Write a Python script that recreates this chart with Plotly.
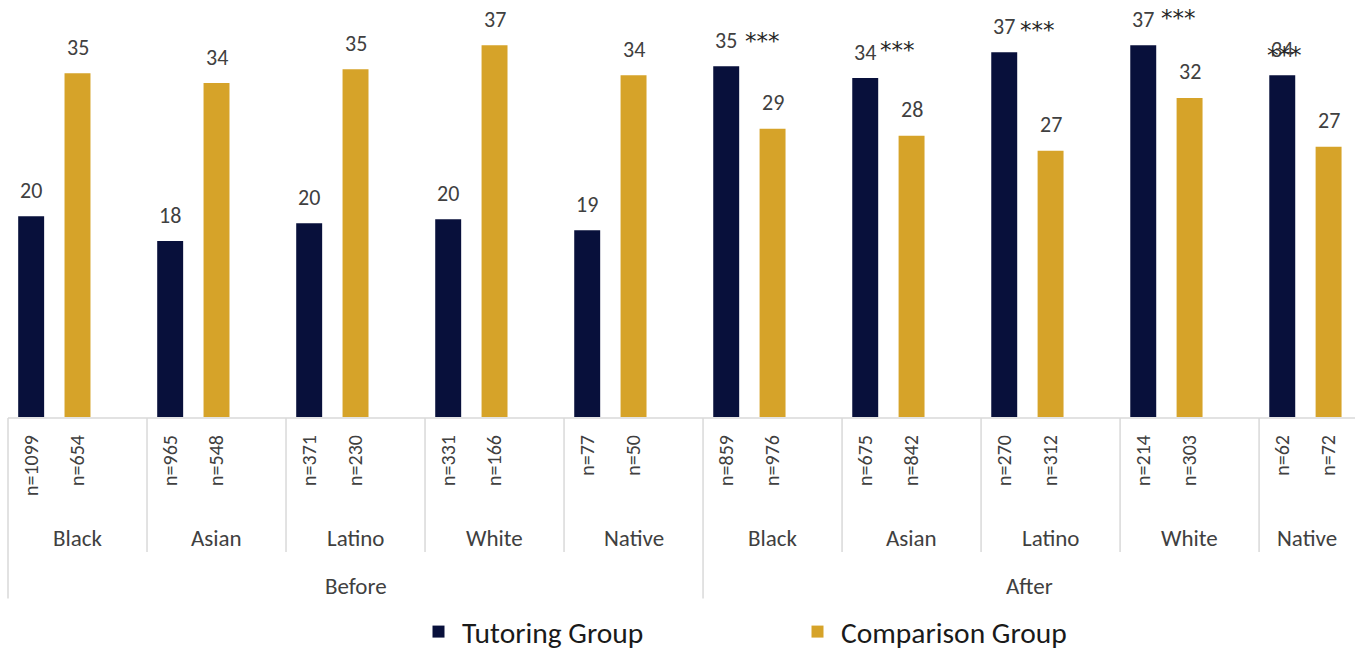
import plotly.graph_objects as go

# ---------------- data ----------------
periods = ["Before", "After"]
groups = ["Black", "Asian", "Latino", "White", "Native"]
tutoring = [20.2, 17.7, 19.5, 19.9, 18.8, 35.3, 34.1, 36.7, 37.4, 34.4]
comparison = [34.6, 33.6, 35.0, 37.4, 34.4, 29.0, 28.3, 26.8, 32.1, 27.2]
n_tutoring = [1099, 965, 371, 331, 77, 859, 675, 270, 214, 62]
n_comparison = [654, 548, 230, 166, 50, 976, 842, 312, 303, 72]
significant = [False, False, False, False, False, True, True, True, True, True]
sig_label = "***"
series_names = ["Tutoring Group", "Comparison Group"]

# ---------------- styles ----------------
NAVY = "#08103b"
GOLD = "#d6a329"
TXT = "#404040"
FONT = "Calibri, Carlito, Lato, sans-serif"
STAR_FONT = "DejaVu Sans, sans-serif"
star_dx = [0, 0, 0, 0, 0, 36, 32, 33, 35, 2]       # px offsets of the *** boxes
star_dy = [0, 0, 0, 0, 0, 29, 32, 26, 31, 24]

W, H = 1355, 658
ML, MR, MT, MB = 8, 0, 0, 235
SLOTS = 3                      # tutoring, comparison, spacer per group
XMIN, XMAX = -0.5, 28.57
YMAX = 41.96

n_groups = len(tutoring)
xt = [SLOTS * i for i in range(n_groups)]
xc = [SLOTS * i + 1 for i in range(n_groups)]


def rnd(v):
    return str(int(v + 0.5))


def to_paper_x(x):
    return (x - XMIN) / (XMAX - XMIN)


plot_h = H - MT - MB


def px_to_paper_y(px_below):
    return -px_below / plot_h


fig = go.Figure()
fig.add_trace(go.Bar(x=xt, y=tutoring, width=0.56, marker_color=NAVY,
                     marker_line_width=0, name=series_names[0]))
fig.add_trace(go.Bar(x=xc, y=comparison, width=0.56, marker_color=GOLD,
                     marker_line_width=0, name=series_names[1]))

ann = []
# value labels
for xs, vs in ((xt, tutoring), (xc, comparison)):
    for x, v in zip(xs, vs):
        ann.append(dict(x=x, y=v, xref="x", yref="y", text=rnd(v), showarrow=False,
                        xanchor="center", yanchor="middle", yshift=26,
                        font=dict(family=FONT, size=22, color=TXT)))
# significance stars
for i, (x, v, s) in enumerate(zip(xt, tutoring, significant)):
    if s:
        ann.append(dict(x=x, y=v, xref="x", yref="y", text=sig_label, showarrow=False,
                        xanchor="center", yanchor="middle",
                        xshift=star_dx[i], yshift=star_dy[i] - 4,
                        font=dict(family=STAR_FONT, size=23, color="#262626")))

# n labels as rotated tick labels
tick_vals = []
tick_text = []
for i in range(n_groups):
    tick_vals += [xt[i], xc[i]]
    tick_text += [f"n={n_tutoring[i]}", f"n={n_comparison[i]}"]

shapes = []
per_period = len(groups)
# group labels and separators
for i in range(n_groups):
    start = SLOTS * i - 0.5
    end = min(start + SLOTS, XMAX)
    ann.append(dict(x=to_paper_x((start + end) / 2), y=px_to_paper_y(123), xref="paper",
                    yref="paper", text=groups[i % per_period], showarrow=False,
                    xanchor="center", yanchor="middle",
                    font=dict(family=FONT, size=23, color=TXT)))
    deep = (i % per_period == 0)
    shapes.append(dict(type="line", xref="paper", yref="paper",
                       x0=to_paper_x(start), x1=to_paper_x(start),
                       y0=px_to_paper_y(1), y1=px_to_paper_y(184 if deep else 137),
                       line=dict(color="#d9d9d9", width=1.5)))
# period labels
for p, name in enumerate(periods):
    start = SLOTS * per_period * p - 0.5
    end = min(start + SLOTS * per_period, XMAX)
    ann.append(dict(x=to_paper_x((start + end) / 2), y=px_to_paper_y(171), xref="paper",
                    yref="paper", text=name, showarrow=False,
                    xanchor="center", yanchor="middle",
                    font=dict(family=FONT, size=23, color=TXT)))
# axis base line
shapes.append(dict(type="line", xref="paper", yref="paper", x0=0, x1=1,
                   y0=px_to_paper_y(1), y1=px_to_paper_y(1),
                   line=dict(color="#d9d9d9", width=1.5)))

fig.update_layout(
    width=W, height=H, autosize=False,
    margin=dict(l=ML, r=MR, t=MT, b=MB),
    paper_bgcolor="white", plot_bgcolor="white",
    barmode="overlay",
    showlegend=True,
    legend=dict(orientation="h", x=(415 - ML) / (W - ML - MR), xanchor="left",
                y=px_to_paper_y(218), yanchor="middle",
                itemwidth=37, entrywidth=327, entrywidthmode="pixels",
                font=dict(family=FONT, size=29.5, color="#1a1a1a")),
    xaxis=dict(range=[XMIN, XMAX], tickmode="array", tickvals=tick_vals,
               ticktext=tick_text, tickangle=-90, ticks="", ticklabelstandoff=13,
               tickfont=dict(family=FONT, size=20, color=TXT),
               showgrid=False, zeroline=False, showline=False),
    yaxis=dict(range=[0, YMAX], showticklabels=False, showgrid=False,
               zeroline=False, showline=False, ticks=""),
    annotations=ann,
    shapes=shapes,
)

fig.write_html("out.html",
               config={"displayModeBar": False},
               post_script="document.body.style.margin='0px';"
                           "document.body.style.overflow='hidden';")
